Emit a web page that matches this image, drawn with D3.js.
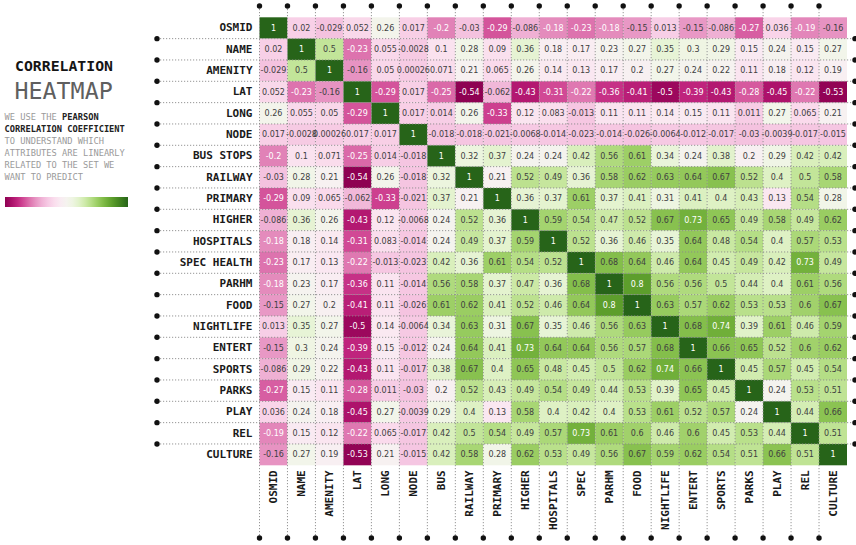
<!DOCTYPE html>
<html>
<head>
<meta charset="utf-8">
<script src="https://cdn.jsdelivr.net/npm/d3@7"></script>
<style>
  html, body { margin: 0; padding: 0; background: #fff; }
  svg { display: block; }
</style>
</head>
<body>
<svg id="chart" width="856" height="545"></svg>
<script>
// Attribute names as they appear on each axis
const rowLabels = ["OSMID", "NAME", "AMENITY", "LAT", "LONG", "NODE", "BUS STOPS", "RAILWAY", "PRIMARY",
  "HIGHER", "HOSPITALS", "SPEC HEALTH", "PARHM", "FOOD", "NIGHTLIFE", "ENTERT", "SPORTS", "PARKS",
  "PLAY", "REL", "CULTURE"];
const colLabels = ["OSMID", "NAME", "AMENITY", "LAT", "LONG", "NODE", "BUS", "RAILWAY", "PRIMARY",
  "HIGHER", "HOSPITALS", "SPEC", "PARHM", "FOOD", "NIGHTLIFE", "ENTERT", "SPORTS", "PARKS",
  "PLAY", "REL", "CULTURE"];

// Pearson correlation coefficients, one array per row
const corrOsmid     = [1, 0.02, -0.029, 0.052, 0.26, 0.017, -0.2, -0.03, -0.29, -0.086, -0.18, -0.23, -0.18, -0.15, 0.013, -0.15, -0.086, -0.27, 0.036, -0.19, -0.16];
const corrName      = [0.02, 1, 0.5, -0.23, 0.055, -0.0028, 0.1, 0.28, 0.09, 0.36, 0.18, 0.17, 0.23, 0.27, 0.35, 0.3, 0.29, 0.15, 0.24, 0.15, 0.27];
const corrAmenity   = [-0.029, 0.5, 1, -0.16, 0.05, 0.00026, 0.071, 0.21, 0.065, 0.26, 0.14, 0.13, 0.17, 0.2, 0.27, 0.24, 0.22, 0.11, 0.18, 0.12, 0.19];
const corrLat       = [0.052, -0.23, -0.16, 1, -0.29, 0.017, -0.25, -0.54, -0.062, -0.43, -0.31, -0.22, -0.36, -0.41, -0.5, -0.39, -0.43, -0.28, -0.45, -0.22, -0.53];
const corrLong      = [0.26, 0.055, 0.05, -0.29, 1, 0.017, 0.014, 0.26, -0.33, 0.12, 0.083, -0.013, 0.11, 0.11, 0.14, 0.15, 0.11, 0.011, 0.27, 0.065, 0.21];
const corrNode      = [0.017, -0.0028, 0.00026, 0.017, 0.017, 1, -0.018, -0.018, -0.021, -0.0068, -0.014, -0.023, -0.014, -0.026, -0.0064, -0.012, -0.017, -0.03, -0.0039, -0.017, -0.015];
const corrBusStops  = [-0.2, 0.1, 0.071, -0.25, 0.014, -0.018, 1, 0.32, 0.37, 0.24, 0.24, 0.42, 0.56, 0.61, 0.34, 0.24, 0.38, 0.2, 0.29, 0.42, 0.42];
const corrRailway   = [-0.03, 0.28, 0.21, -0.54, 0.26, -0.018, 0.32, 1, 0.21, 0.52, 0.49, 0.36, 0.58, 0.62, 0.63, 0.64, 0.67, 0.52, 0.4, 0.5, 0.58];
const corrPrimary   = [-0.29, 0.09, 0.065, -0.062, -0.33, -0.021, 0.37, 0.21, 1, 0.36, 0.37, 0.61, 0.37, 0.41, 0.31, 0.41, 0.4, 0.43, 0.13, 0.54, 0.28];
const corrHigher    = [-0.086, 0.36, 0.26, -0.43, 0.12, -0.0068, 0.24, 0.52, 0.36, 1, 0.59, 0.54, 0.47, 0.52, 0.67, 0.73, 0.65, 0.49, 0.58, 0.49, 0.62];
const corrHospitals = [-0.18, 0.18, 0.14, -0.31, 0.083, -0.014, 0.24, 0.49, 0.37, 0.59, 1, 0.52, 0.36, 0.46, 0.35, 0.64, 0.48, 0.54, 0.4, 0.57, 0.53];
const corrSpec      = [-0.23, 0.17, 0.13, -0.22, -0.013, -0.023, 0.42, 0.36, 0.61, 0.54, 0.52, 1, 0.68, 0.64, 0.46, 0.64, 0.45, 0.49, 0.42, 0.73, 0.49];
const corrParhm     = [-0.18, 0.23, 0.17, -0.36, 0.11, -0.014, 0.56, 0.58, 0.37, 0.47, 0.36, 0.68, 1, 0.8, 0.56, 0.56, 0.5, 0.44, 0.4, 0.61, 0.56];
const corrFood      = [-0.15, 0.27, 0.2, -0.41, 0.11, -0.026, 0.61, 0.62, 0.41, 0.52, 0.46, 0.64, 0.8, 1, 0.63, 0.57, 0.62, 0.53, 0.53, 0.6, 0.67];
const corrNightlife = [0.013, 0.35, 0.27, -0.5, 0.14, -0.0064, 0.34, 0.63, 0.31, 0.67, 0.35, 0.46, 0.56, 0.63, 1, 0.68, 0.74, 0.39, 0.61, 0.46, 0.59];
const corrEntert    = [-0.15, 0.3, 0.24, -0.39, 0.15, -0.012, 0.24, 0.64, 0.41, 0.73, 0.64, 0.64, 0.56, 0.57, 0.68, 1, 0.66, 0.65, 0.52, 0.6, 0.62];
const corrSports    = [-0.086, 0.29, 0.22, -0.43, 0.11, -0.017, 0.38, 0.67, 0.4, 0.65, 0.48, 0.45, 0.5, 0.62, 0.74, 0.66, 1, 0.45, 0.57, 0.45, 0.54];
const corrParks     = [-0.27, 0.15, 0.11, -0.28, 0.011, -0.03, 0.2, 0.52, 0.43, 0.49, 0.54, 0.49, 0.44, 0.53, 0.39, 0.65, 0.45, 1, 0.24, 0.53, 0.51];
const corrPlay      = [0.036, 0.24, 0.18, -0.45, 0.27, -0.0039, 0.29, 0.4, 0.13, 0.58, 0.4, 0.42, 0.4, 0.53, 0.61, 0.52, 0.57, 0.24, 1, 0.44, 0.66];
const corrRel       = [-0.19, 0.15, 0.12, -0.22, 0.065, -0.017, 0.42, 0.5, 0.54, 0.49, 0.57, 0.73, 0.61, 0.6, 0.46, 0.6, 0.45, 0.53, 0.44, 1, 0.51];
const corrCulture   = [-0.16, 0.27, 0.19, -0.53, 0.21, -0.015, 0.42, 0.58, 0.28, 0.62, 0.53, 0.49, 0.56, 0.67, 0.59, 0.62, 0.54, 0.51, 0.66, 0.51, 1];

const corrRows = [corrOsmid, corrName, corrAmenity, corrLat, corrLong, corrNode, corrBusStops, corrRailway,
  corrPrimary, corrHigher, corrHospitals, corrSpec, corrParhm, corrFood, corrNightlife, corrEntert,
  corrSports, corrParks, corrPlay, corrRel, corrCulture];

const descLines = [
  [["WE USE THE ", false], ["PEARSON", true]],
  [["CORRELATION COEFFICIENT", true]],
  [["TO UNDERSTAND WHICH", false]],
  [["ATTRIBUTES ARE LINEARLY", false]],
  [["RELATED TO THE SET WE", false]],
  [["WANT TO PREDICT", false]]
];

// ---- drawing ----
const svg = d3.select("#chart");
const grid = { left: 259.5, top: 17.3, width: 587.5, height: 448 };

const idx = d3.range(rowLabels.length);
const x = d3.scaleBand().domain(idx).range([grid.left, grid.left + grid.width]);
const y = d3.scaleBand().domain(idx).range([grid.top, grid.top + grid.height]);

const flat = corrRows.flatMap((row, r) => row.map((v, c) => ({ r, c, v })));
const vmin = d3.min(flat, d => d.v), vmax = d3.max(flat, d => d.v);
const color = d3.scaleSequential(d3.interpolatePiYG).domain([vmin, vmax]);

const fmt = d3.formatLocale({ decimal: ".", thousands: ",", grouping: [3], currency: ["", ""], minus: "-" }).format(".2~g");

function luminance(c) {
  const rgb = d3.rgb(c);
  const lin = u => { u /= 255; return u <= 0.03928 ? u / 12.92 : Math.pow((u + 0.055) / 1.055, 2.4); };
  return 0.2126 * lin(rgb.r) + 0.7152 * lin(rgb.g) + 0.0722 * lin(rgb.b);
}

// cells
svg.append("g").selectAll("rect").data(flat).join("rect")
  .attr("x", d => x(d.c)).attr("y", d => y(d.r))
  .attr("width", x.bandwidth()).attr("height", y.bandwidth())
  .attr("fill", d => color(d.v));

// dotted guide lines with round end markers
const guides = svg.append("g");
const vx = d3.range(0, colLabels.length).map(i => x(i));
const hy = d3.range(1, rowLabels.length).map(j => y(j));
guides.selectAll("line.v").data(vx).join("line")
  .attr("x1", d => d).attr("x2", d => d).attr("y1", 6).attr("y2", 538)
  .attr("stroke", "#8a8a8a").attr("stroke-width", 0.9).attr("stroke-dasharray", "1.2,1.8");
guides.selectAll("line.h").data(hy).join("line")
  .attr("y1", d => d).attr("y2", d => d).attr("x1", 157).attr("x2", 855)
  .attr("stroke", "#8a8a8a").attr("stroke-width", 0.9).attr("stroke-dasharray", "1.2,1.8");
const dots = vx.flatMap(v => [[v, 6], [v, 538]]).concat(hy.flatMap(h => [[157, h], [855, h]]));
guides.selectAll("circle").data(dots).join("circle")
  .attr("cx", d => d[0]).attr("cy", d => d[1]).attr("r", 2.7).attr("fill", "#111");

// value annotations
svg.append("g").selectAll("text").data(flat).join("text")
  .attr("x", d => x(d.c) + x.bandwidth() / 2)
  .attr("y", d => y(d.r) + y.bandwidth() / 2)
  .attr("dy", "0.35em")
  .attr("text-anchor", "middle")
  .attr("font-family", "'DejaVu Sans', sans-serif")
  .attr("font-size", 8)
  .attr("fill", d => luminance(color(d.v)) > 0.408 ? "#404040" : "#ffffff")
  .text(d => fmt(d.v));

// axes
const yAxis = svg.append("g")
  .attr("transform", `translate(${grid.left},0)`)
  .call(d3.axisLeft(y).tickSize(0).tickPadding(7).tickFormat(i => rowLabels[i]));
const xAxis = svg.append("g")
  .attr("transform", `translate(0,${grid.top + grid.height})`)
  .call(d3.axisBottom(x).tickSize(0).tickFormat(i => colLabels[i]));
[yAxis, xAxis].forEach(a => {
  a.select(".domain").remove();
  a.selectAll("text")
    .attr("font-family", "'DejaVu Sans Mono', monospace")
    .attr("font-weight", "bold")
    .attr("font-size", 11)
    .attr("fill", "#1a1a1a");
});
xAxis.selectAll("text")
  .attr("transform", "rotate(-90)")
  .attr("text-anchor", "end")
  .attr("x", -5).attr("y", 0).attr("dy", "0.35em");

// side panel: title, description, colour ramp
const side = svg.append("g");
side.append("text").attr("x", 15).attr("y", 70.5)
  .attr("font-family", "'DejaVu Sans Mono', monospace").attr("font-weight", "bold")
  .attr("font-size", 14.8).attr("fill", "#151515").text("CORRELATION");
side.append("text").attr("x", 14.5).attr("y", 99)
  .attr("font-family", "'DejaVu Sans Mono', monospace")
  .attr("font-size", 23.3).attr("fill", "#5f5f5f").text("HEATMAP");

const desc = side.append("text")
  .attr("font-family", "'DejaVu Sans Mono', monospace").attr("font-size", 8.7);
descLines.forEach((line, i) => {
  line.forEach(([t, bold], k) => {
    const ts = desc.append("tspan").text(t)
      .attr("font-weight", bold ? "bold" : "normal")
      .attr("fill", bold ? "#222" : "#9a9a9a");
    if (k === 0) ts.attr("x", 4.5).attr("y", 119.5 + i * 12.1);
  });
});

const grad = svg.append("defs").append("linearGradient").attr("id", "ramp");
d3.range(0, 1.0001, 0.05).forEach(t => {
  grad.append("stop").attr("offset", t).attr("stop-color", d3.interpolatePiYG(t));
});
side.append("rect").attr("x", 5).attr("y", 197).attr("width", 123).attr("height", 10)
  .attr("fill", "url(#ramp)");
</script>
</body>
</html>
